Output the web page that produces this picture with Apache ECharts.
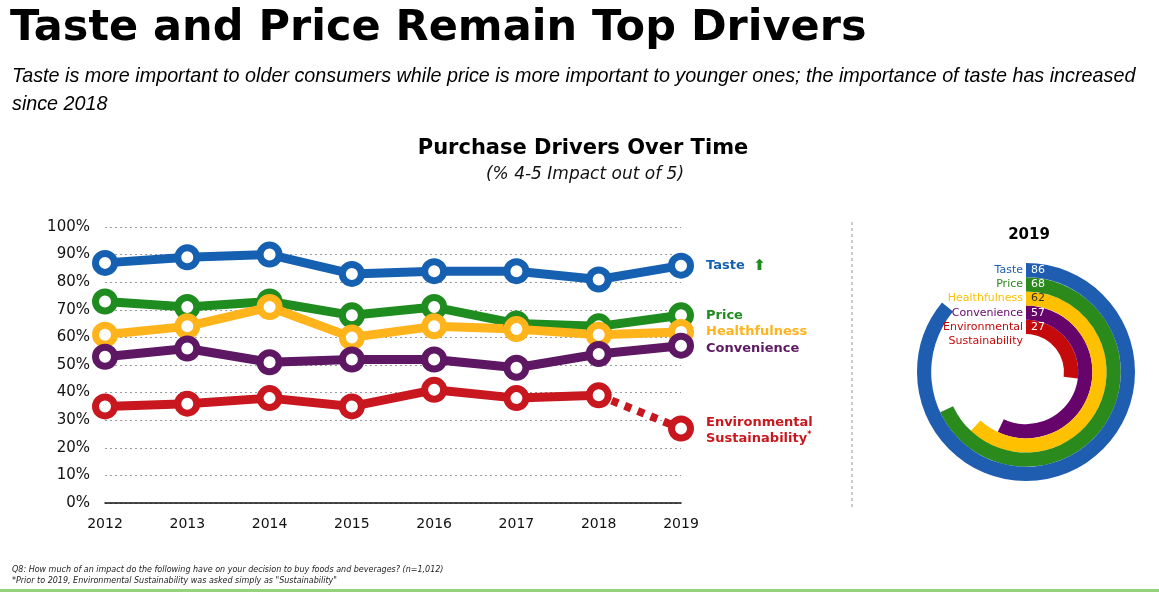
<!DOCTYPE html>
<html>
<head>
<meta charset="utf-8">
<title>Purchase Drivers Over Time</title>
<script src="https://cdn.jsdelivr.net/npm/echarts@6/dist/echarts.min.js"></script>
<style>
  html, body { margin: 0; padding: 0; background: #fff; }
  #main { width: 1159px; height: 593px; }
</style>
</head>
<body>
<div id="main"></div>
<script>
// line chart data (% rating 4-5 out of 5)
var years = ['2012', '2013', '2014', '2015', '2016', '2017', '2018', '2019'];
var taste = [87, 89, 90, 83, 84, 84, 81, 86];
var price = [73, 71, 73, 68, 71, 65, 64, 68];
var health = [61, 64, 71, 60, 64, 63, 61, 62];
var convenience = [53, 56, 51, 52, 52, 49, 54, 57];
var sustain = [35, 36, 38, 35, 41, 38, 39, null];
var sustainNew = [null, null, null, null, null, null, 39, 27];

// 2019 radial chart, inner ring first
var ringNames = ['Environmental Sustainability', 'Convenience', 'Healthfulness', 'Price', 'Taste'];
var ringValues = [27, 57, 62, 68, 86];

var BLUE = '#1660b2', GREEN = '#1f8c1f', YELLOW = '#ffb41c', PURPLE = '#5d1763', RED = '#c8171e';
var ringColors = ['#c40a0a', '#66046b', '#ffc000', '#2a8a1c', '#1e5db0'];
var ringLabelColors = ['#fff', '#fff', '#333', '#fff', '#fff'];

var chart = echarts.init(document.getElementById('main'));

function lineSeries(name, data, color, label) {
  return {
    name: name,
    type: 'line',
    data: data,
    symbol: 'circle',
    symbolSize: 19,
    lineStyle: { width: 9, color: color },
    itemStyle: { color: '#fff', borderColor: color, borderWidth: 7 },
    emphasis: { disabled: true },
    endLabel: label
  };
}

function endLbl(text, color, offsetY, rich) {
  return {
    show: true,
    formatter: text,
    color: color,
    fontFamily: 'DejaVu Sans',
    fontWeight: 'bold',
    fontSize: 13,
    lineHeight: 16,
    distance: 25,
    offset: [0, offsetY || 0],
    rich: rich
  };
}

var ringRich = { e: { fontSize: 11, lineHeight: 14, align: 'right' } };
ringColors.forEach(function (c, i) {
  ringRich['n' + i] = { color: c, fontSize: 11, lineHeight: 14, fontFamily: 'DejaVu Sans', align: 'right' };
});

var tasteLabel = endLbl('Taste {up|⬆}', BLUE, 0, {
  up: { color: GREEN, fontSize: 15, fontWeight: 'bold', padding: [0, 0, 0, 4] }
});
var envLabel = endLbl('Environmental\nSustainability{s|*}', RED, 2, {
  s: { color: RED, fontSize: 8, verticalAlign: 'top' }
});

var option = {
  backgroundColor: '#fff',
  animation: false,
  grid: { left: 105, right: 478, top: 227, bottom: 90 },
  xAxis: {
    type: 'category',
    data: years,
    boundaryGap: false,
    axisLine: { lineStyle: { color: '#111', width: 1.5 } },
    axisTick: { show: false },
    axisLabel: { color: '#111', fontSize: 14, fontFamily: 'DejaVu Sans', margin: 14 }
  },
  yAxis: {
    type: 'value',
    min: 0,
    max: 100,
    interval: 10,
    axisLine: { show: false },
    axisTick: { show: false },
    axisLabel: { formatter: '{value}%', color: '#111', fontSize: 15, fontFamily: 'DejaVu Sans', margin: 15 },
    splitLine: { lineStyle: { color: '#9a9a9a', type: [2, 3], width: 1.2 } }
  },
  polar: { center: [1026, 372], radius: [38, 109] },
  angleAxis: {
    type: 'value', min: 0, max: 100, startAngle: 90, clockwise: true,
    axisLine: { show: false }, axisTick: { show: false },
    axisLabel: { show: false }, splitLine: { show: false }
  },
  radiusAxis: {
    type: 'category',
    data: ringNames,
    z: 10,
    axisLine: { show: false },
    axisTick: { show: false },
    splitLine: { show: false },
    axisLabel: {
      interval: 0,
      hideOverlap: false,
      margin: 3,
      fontSize: 11,
      fontFamily: 'DejaVu Sans',
      formatter: function (value, idx) {
        if (idx === 0) {
          return '{e| }\n{n0|Environmental}\n{n0|Sustainability}';
        }
        return '{n' + idx + '|' + value + '}';
      },
      rich: ringRich
    }
  },
  series: [
    {
      name: 'ringSeries',
      type: 'bar',
      coordinateSystem: 'polar',
      barCategoryGap: '0%',
      emphasis: { disabled: true },
      data: ringValues.map(function (v, i) {
        return {
          value: v,
          itemStyle: { color: ringColors[i] },
          label: { color: ringLabelColors[i] }
        };
      }),
      label: {
        show: true,
        position: 'insideStart',
        formatter: '{c}',
        fontSize: 11,
        fontFamily: 'DejaVu Sans'
      }
    },
    lineSeries('Taste', taste, BLUE, tasteLabel),
    lineSeries('Price', price, GREEN, endLbl('Price', GREEN, 0)),
    lineSeries('Healthfulness', health, YELLOW, endLbl('Healthfulness', YELLOW, 0)),
    lineSeries('Convenience', convenience, PURPLE, endLbl('Convenience', PURPLE, 3)),
    {
      name: 'Environmental Sustainability 2019',
      type: 'line',
      z: 1,
      data: sustainNew.map(function (v, i) {
        return i === 6 ? { value: v, symbol: 'none' } : v;
      }),
      symbol: 'circle',
      symbolSize: 19,
      lineStyle: { width: 8, color: RED, type: [7, 7] },
      itemStyle: { color: '#fff', borderColor: RED, borderWidth: 7 },
      emphasis: { disabled: true },
      endLabel: envLabel
    },
    lineSeries('Environmental Sustainability', sustain, RED, { show: false })
  ],
  graphic: [
    { type: 'text', x: 10, y: 29, style: { text: 'Taste and Price Remain Top Drivers', font: 'bold 43px "DejaVu Sans"', fill: '#000', textVerticalAlign: 'middle' } },
    { type: 'text', x: 12, y: 76, style: { text: 'Taste is more important to older consumers while price is more important to younger ones; the importance of taste has increased', font: 'italic 19.75px "Liberation Sans"', fill: '#000', textVerticalAlign: 'middle' } },
    { type: 'text', x: 12, y: 104, style: { text: 'since 2018', font: 'italic 19.75px "Liberation Sans"', fill: '#000', textVerticalAlign: 'middle' } },
    { type: 'text', x: 583, y: 149, style: { text: 'Purchase Drivers Over Time', font: 'bold 21px "DejaVu Sans"', fill: '#000', textAlign: 'center', textVerticalAlign: 'middle' } },
    { type: 'text', x: 585, y: 175, style: { text: '(% 4-5 Impact out of 5)', font: 'italic 17px "DejaVu Sans"', fill: '#111', textAlign: 'center', textVerticalAlign: 'middle' } },
    { type: 'text', x: 1029, y: 235, style: { text: '2019', font: 'bold 15px "DejaVu Sans"', fill: '#000', textAlign: 'center', textVerticalAlign: 'middle' } },
    { type: 'line', shape: { x1: 852, y1: 222, x2: 852, y2: 508 }, style: { stroke: '#9a9a9a', lineWidth: 1, lineDash: [3, 3] } },
    { type: 'text', x: 12, y: 570, style: { text: 'Q8: How much of an impact do the following have on your decision to buy foods and beverages? (n=1,012)', font: 'italic 8px "DejaVu Sans"', fill: '#222', textVerticalAlign: 'middle' } },
    { type: 'text', x: 12, y: 581, style: { text: '*Prior to 2019, Environmental Sustainability was asked simply as "Sustainability"', font: 'italic 8px "DejaVu Sans"', fill: '#222', textVerticalAlign: 'middle' } },
    { type: 'rect', shape: { x: 0, y: 589, width: 1159, height: 3 }, style: { fill: '#94d37c' } }
  ]
};

chart.setOption(option);
</script>
</body>
</html>
